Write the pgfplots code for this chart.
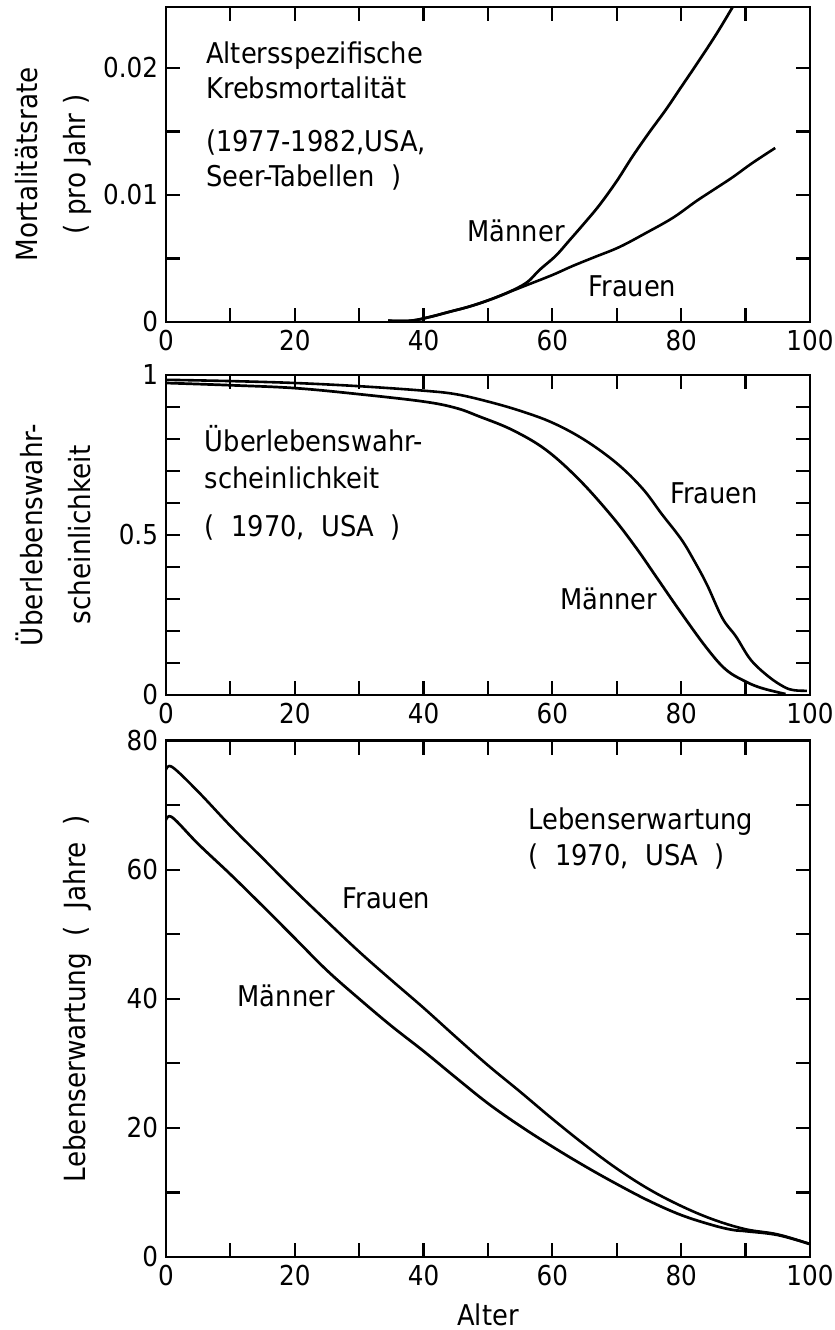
\documentclass[border=0pt]{standalone}
\usepackage{fontspec}
\setmainfont{DejaVu Sans Condensed}
\usepackage{pgfplots}
\pgfplotsset{compat=1.18}
\newcommand\ann{\fontsize{14.3}{17}\selectfont}
\pgfplotsset{
  panel/.style={
    scale only axis, width=322pt, xmin=0, xmax=100,
    xtick={0,20,...,100}, minor xtick={10,30,...,90},
    tick align=inside, major tick length=7pt, minor tick length=7pt,
    line width=1.35pt,
    tick style={black, line width=1.1pt},
    tick label style={font=\fontsize{13.7}{16}\selectfont},
    /pgf/number format/assume math mode=true,
    scaled y ticks=false,
    ylabel style={font=\fontsize{14.6}{24}\selectfont, align=center, anchor=center},
    cycle list={{black, line width=1.3pt, mark=none}},
  }
}
\begin{document}
\begin{tikzpicture}
\useasboundingbox (-83pt,-36.5pt) rectangle (334.5pt,628.5pt);
% ---------------- Panel 1 ----------------
\begin{axis}[panel, at={(0,467.5pt)}, height=157.5pt,
  ymin=0, ymax=0.0248,
  ytick={0,0.01,0.02}, yticklabels={0,0.01,0.02},
  minor ytick={0.005,0.015},
  ylabel={Mortalitätsrate\\( pro Jahr )},
  ylabel style={at={(axis description cs:-0.1747,0.5)}},
]
\addplot+[smooth, tension=0.6] coordinates {(34.5,0.0001)(38,0.0001)(41,0.0004)(44,0.0008)(47,0.0012)(50,0.0017)(53,0.0023)
 (56,0.0031)(58,0.0041)(60.5,0.0052)(62.6,0.0064)(65,0.0078)(67.3,0.0092)(70,0.0111)(72.4,0.0130)
 (75,0.0149)(77.6,0.0167)(80,0.0185)(82.8,0.0206)(85.5,0.0227)(88,0.0248)(88.5,0.0252)};
\addplot+[smooth, tension=0.6] coordinates {(34.5,0.0001)(38,0.0001)(41,0.0004)(44,0.0008)(47,0.0012)(50,0.0017)(53,0.0023)
 (56,0.0029)(60,0.0037)(63.1,0.0044)(66.5,0.0051)(70.4,0.0059)(74.5,0.0070)(78.7,0.0082)
 (82.3,0.0095)(85,0.0104)(88,0.0114)(91,0.0125)(94.6,0.0137)};
\node[anchor=base west, font=\ann] at (axis cs:5,0.02037) {Altersspezifische};
\node[anchor=base west, font=\ann] at (axis cs:5,0.01761) {Krebsmortalität};
\node[anchor=base west, font=\ann] at (axis cs:5,0.01339) {(1977-1982,USA,};
\node[anchor=base west, font=\ann] at (axis cs:5,0.01063) {Seer-Tabellen\ \ )};
\node[anchor=base west, font=\ann] at (axis cs:45.6,0.00632) {Männer};
\node[anchor=base west, font=\ann] at (axis cs:64.4,0.00199) {Frauen};
\end{axis}
% ---------------- Panel 2 ----------------
\begin{axis}[panel, at={(0,281pt)}, height=160pt,
  ymin=0, ymax=1,
  ytick={0,0.5,1}, yticklabels={0,0.5,1},
  minor ytick={0.1,0.2,0.3,0.4,0.6,0.7,0.8,0.9},
  ylabel={Überlebenswahr-\\scheinlichkeit},
  ylabel style={at={(axis description cs:-0.1747,0.5)}},
]
\addplot+[smooth, tension=0.6] coordinates {(0,0.975)(10,0.968)(20,0.959)(30,0.94)(40,0.917)(45,0.897)(48.7,0.87)
 (53.8,0.828)(59,0.766)(64.2,0.672)(69.3,0.557)(73,0.46)(76.1,0.37)(79.7,0.265)(83.8,0.151)
 (86.9,0.08)(90,0.042)(92.6,0.021)(96.2,0.003)};
\addplot+[smooth, tension=0.6] coordinates {(0,0.985)(10,0.981)(20,0.975)(30,0.965)(40,0.951)(45,0.94)(50,0.917)
 (55,0.888)(60,0.851)(65,0.797)(70,0.724)(74,0.645)(77,0.565)(80,0.487)(82,0.42)(84,0.345)
 (86.4,0.24)(88.5,0.183)(90.8,0.11)(93.6,0.057)(96,0.025)(97.5,0.015)(99.5,0.013)};
\node[anchor=base west, font=\ann] at (axis cs:4.8,0.760) {Überlebenswahr-};
\node[anchor=base west, font=\ann] at (axis cs:4.8,0.646) {scheinlichkeit};
\node[anchor=base west, font=\ann] at (axis cs:4.8,0.495) {(\ \ 1970,\ \ USA\ \ )};
\node[anchor=base west, font=\ann] at (axis cs:77.1,0.599) {Frauen};
\node[anchor=base west, font=\ann] at (axis cs:60.0,0.266) {Männer};
\end{axis}
% ---------------- Panel 3 ----------------
\begin{axis}[panel, at={(0,0)}, height=258.15pt,
  ymin=0, ymax=80,
  ytick={0,20,...,80}, minor ytick={10,30,50,70},
  ylabel={Lebenserwartung\ \ (\ \ Jahre\ \ )},
  ylabel style={at={(axis description cs:-0.138,0.5)}},
  xlabel={Alter},
  xlabel style={font=\ann, at={(axis description cs:0.5,0)}, anchor=base, yshift=-34pt},
]
\addplot+[smooth, tension=0.6] coordinates {(0,67.7)(1,68.1)(5,64.0)(10,59.3)(15,54.4)(20,49.4)(25,44.4)(30,40.0)(35,35.8)
 (40,31.9)(45,27.8)(50,23.8)(55,20.3)(60,17.1)(65,14.1)(70,11.3)(75,8.7)(80,6.5)(85,4.9)(88,4.2)
 (90,4.0)(95,3.4)(100,2.0)};
\addplot+[smooth, tension=0.6] coordinates {(0,75.5)(1,75.9)(5,72.1)(10,66.8)(15,61.8)(20,56.8)(25,52.0)(30,47.3)(35,42.9)
 (40,38.6)(45,34.1)(50,29.7)(55,25.6)(60,21.4)(65,17.4)(70,13.7)(75,10.5)(80,7.9)(85,5.8)(90,4.3)
 (95,3.5)(100,2.0)};
\node[anchor=base west, font=\ann] at (axis cs:55.1,66.2) {Lebenserwartung};
\node[anchor=base west, font=\ann] at (axis cs:55.1,60.7) {(\ \ 1970,\ \ USA\ \ )};
\node[anchor=base west, font=\ann] at (axis cs:26.2,54.0) {Frauen};
\node[anchor=base west, font=\ann] at (axis cs:9.9,38.8) {Männer};
\end{axis}
\end{tikzpicture}
\end{document}
